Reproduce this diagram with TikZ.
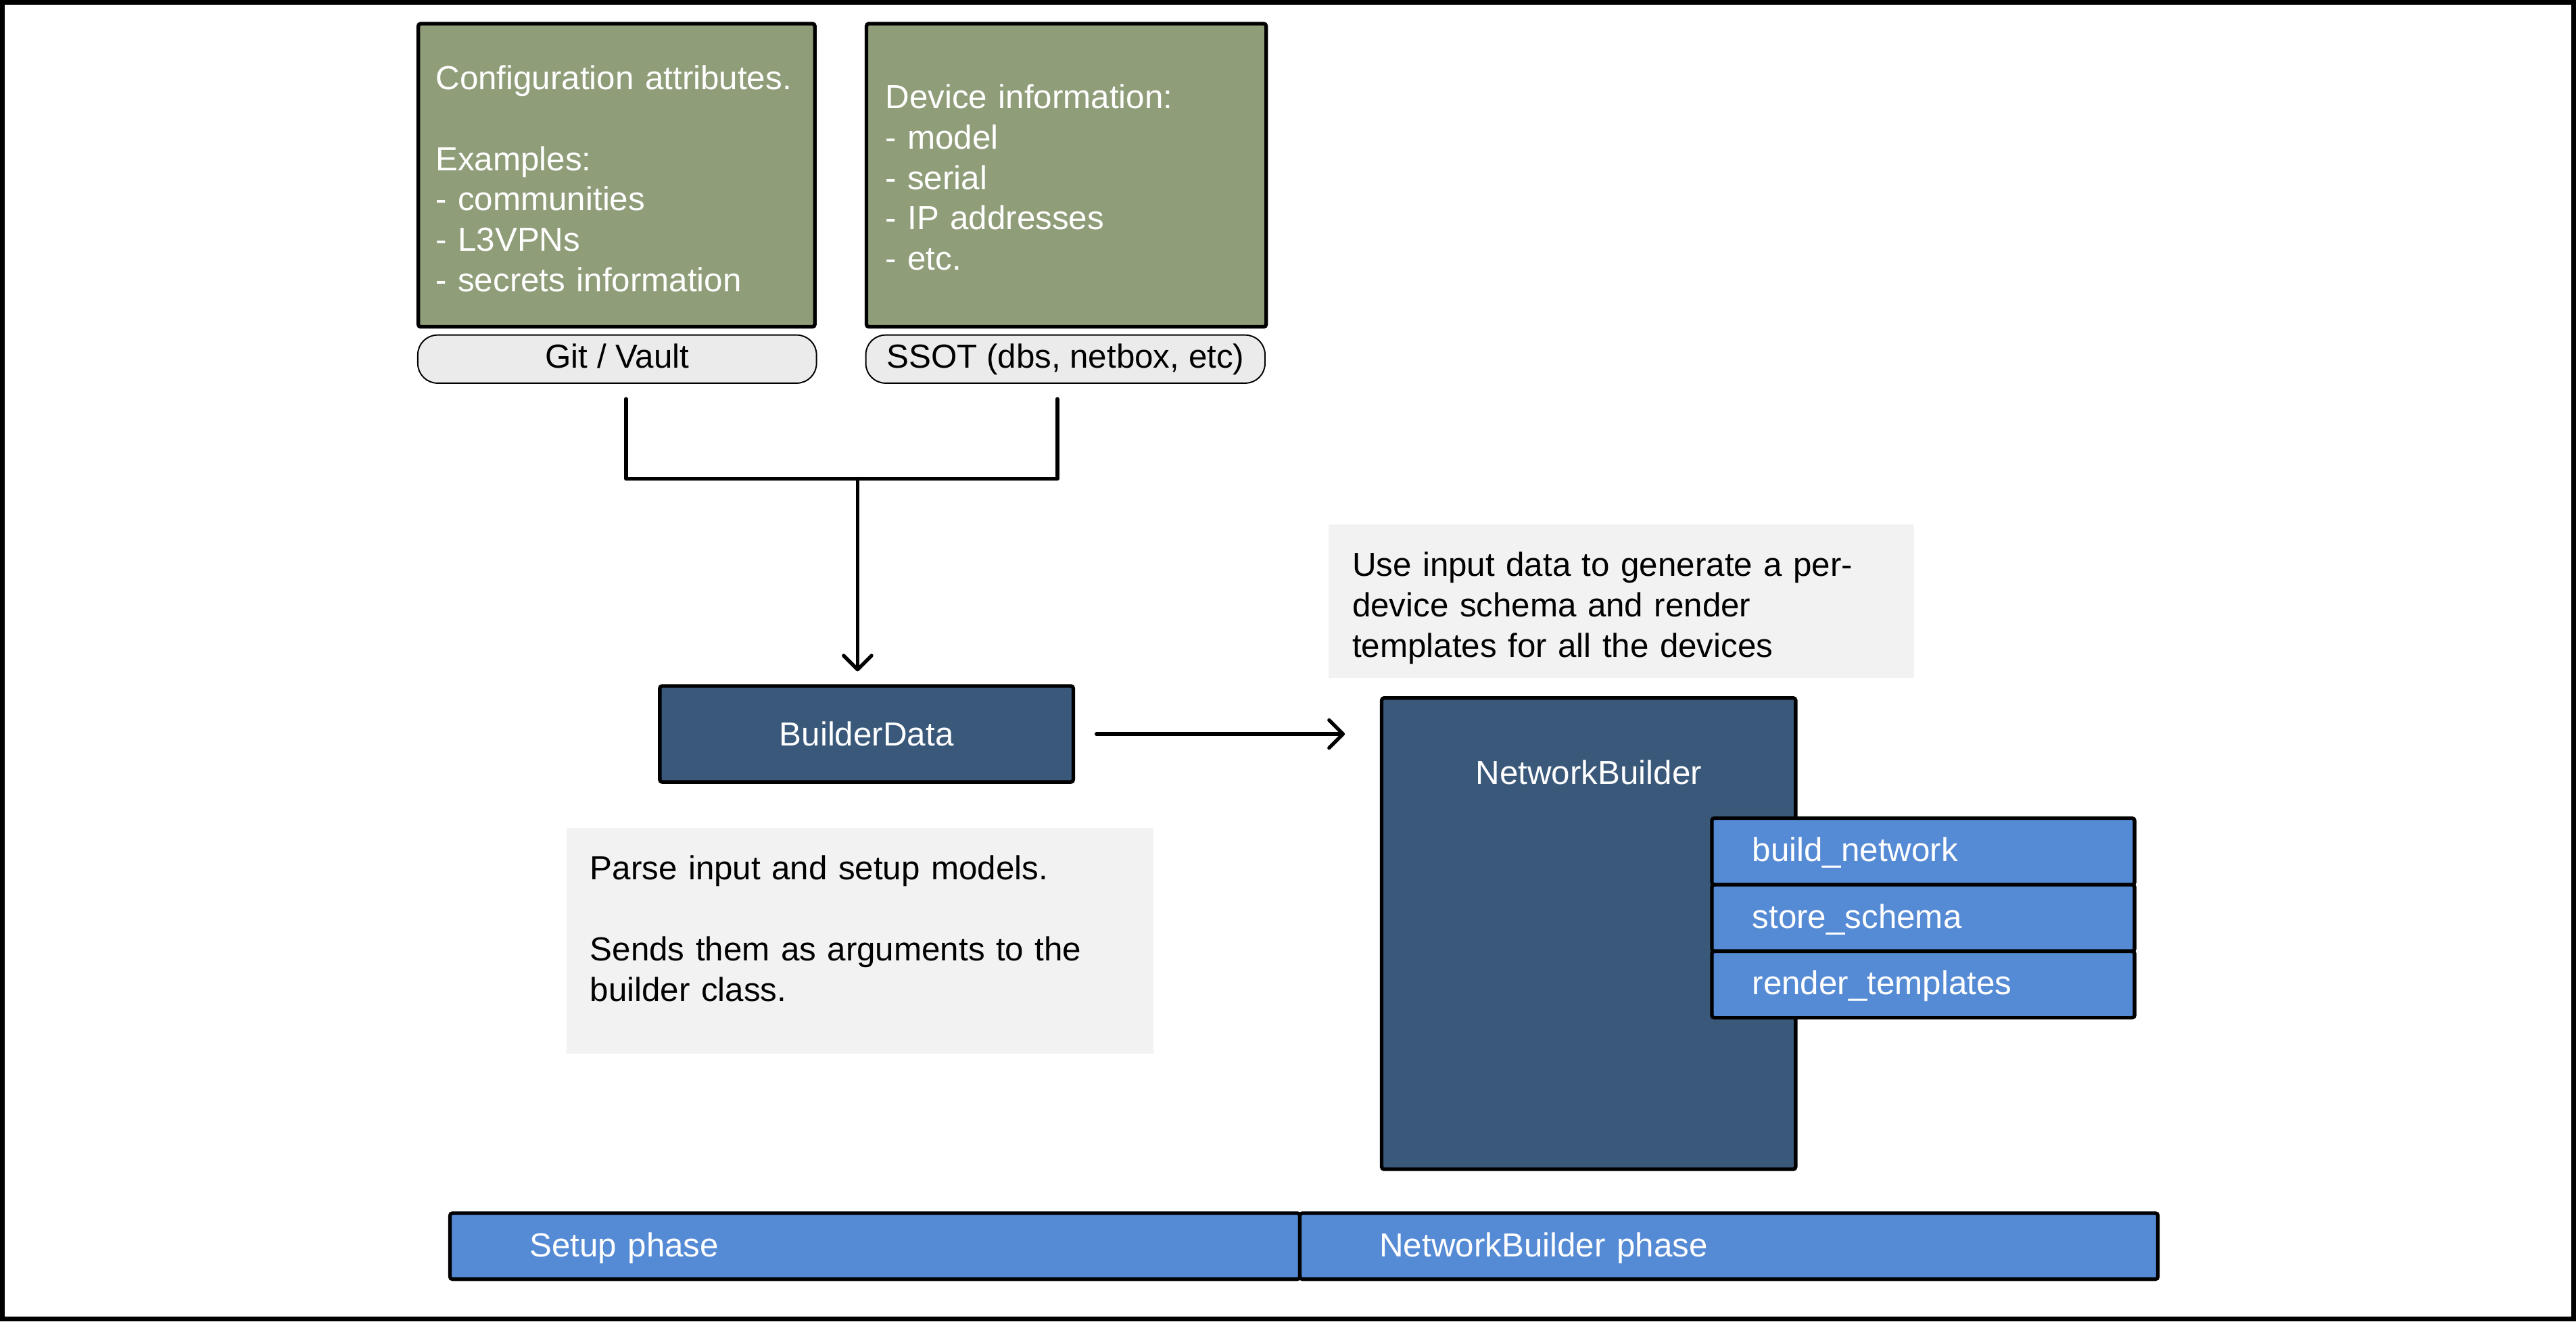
\documentclass[tikz,border=0pt]{standalone}
\usepackage{fontspec}
\setmainfont{Liberation Sans}
\usetikzlibrary{arrows.meta,positioning}
\definecolor{srcgreen}{HTML}{8F9D79}
\definecolor{builderblue}{HTML}{3A5879}
\definecolor{methodblue}{HTML}{558AD5}
\definecolor{pillgrey}{HTML}{EBEBEB}
\definecolor{notegrey}{HTML}{F2F2F2}
\tikzset{
    every node/.style={font=\fontsize{20.3}{24.6}\selectfont},
    heavybox/.style={draw=black, line width=2.2pt, rounded corners=1.5pt, anchor=north west,
        inner sep=0pt, outer sep=0pt},
    srcbox/.style={heavybox, fill=srcgreen, minimum height=184.6pt},
    pill/.style={draw=black, line width=0.8pt, fill=pillgrey, rounded corners=12pt, anchor=north west,
        minimum height=29.3pt, text height=14.8pt, text depth=4.3pt, inner sep=0pt, outer sep=0pt},
    classbox/.style={heavybox, fill=builderblue, text=white},
    methodbox/.style={heavybox, fill=methodblue, text=white, align=left, text width=208.1pt,
        inner xsep=24.6pt, minimum height=40.5pt, text height=14.8pt, text depth=2.5pt},
    phasebox/.style={heavybox, fill=methodblue, text=white, align=left, text width=#1,
        inner xsep=48.5pt, minimum height=40.2pt, text height=14.8pt, text depth=1.5pt},
    notebox/.style={fill=notegrey, anchor=north west, inner sep=0pt, outer sep=0pt},
    boxtext/.style={anchor=base west, inner sep=0pt, align=left, text width=#1},
    link/.style={line width=2.2pt, line cap=round, line join=round},
    flow/.style={link, -{Straight Barb[angle=90:12pt, line cap=round, line join=round]}},
}
\begin{document}
\begin{tikzpicture}[x=1pt, y=-1pt]
\useasboundingbox (0,0) rectangle (1568,804.6);
\draw[line width=3pt] (1.5,1.5) rectangle (1566.5,803.1);
%
% input data and where it lives
\node[srcbox, minimum width=241.4pt] (cfg) at (254.6,14.4) {};
\node[srcbox, minimum width=243.3pt] (dev) at (527.4,14.4) {};
\node[boxtext=220pt, text=white] (cfgtext) at (265,54.6)
    {Configuration attributes.\\[24.6pt]Examples:\\- communities\\- L3VPNs\\- secrets information};
\node[boxtext=220pt, text=white] (devtext) at (538.7,66.1)
    {Device information:\\- model\\- serial\\- IP addresses\\- etc.};
\node[pill, minimum width=242.7pt] (gitvault) at (254.3,204) {Git / Vault};
\node[pill, minimum width=243pt] (ssot) at (527,204) {SSOT (dbs, netbox, etc)};
%
% notes
\node[notebox, minimum width=356.4pt, minimum height=93.5pt] (nbnote) at (808.6,319.4) {};
\node[boxtext=400pt] (nbnotetext) at (822.9,350.9)
    {Use input data to generate a per-\\device schema and render\\templates for all the devices};
\node[notebox, minimum width=356.9pt, minimum height=137.3pt] (setupnote) at (345,504.1) {};
\node[boxtext=400pt] (setupnotetext) at (359,535.6)
    {Parse input and setup models.\\[25pt]Sends them as arguments to the\\builder class.};
%
% classes
\node[classbox, minimum width=251.7pt, minimum height=58.5pt] (builder) at (401.6,417.7) {BuilderData};
\node[classbox, minimum width=252pt, minimum height=287pt] (netbuilder) at (841,425) {};
\node[anchor=base, text=white, inner sep=0pt] (nbtitle) at (967,477.4) {NetworkBuilder};
\node[methodbox] (buildnet) at (1042,498.2) {build\_network};
\node[methodbox, below=0pt of buildnet] (storeschema) {store\_schema};
\node[methodbox, below=0pt of storeschema] (rendertpl) {render\_templates};
%
% phases
\node[phasebox=420.3pt] (setupphase) at (273.9,738.7) {Setup phase};
\node[phasebox=425.3pt, right=0pt of setupphase] (nbphase) {NetworkBuilder phase};
%
% connectors
\coordinate (gitout) at ([xshift=5.4pt, yshift=-9.6pt]gitvault.south);
\coordinate (ssotout) at ([xshift=-4.9pt, yshift=-9.6pt]ssot.south);
\coordinate (merge) at (522,291.6);
\draw[link] (gitout) |- (merge) -| (ssotout);
\draw[flow, shorten >=8.9pt] (merge) -- (merge |- builder.north);
\draw[flow, shorten <=14.1pt, shorten >=22.4pt] (builder.east) -- (builder.east -| netbuilder.west);
\end{tikzpicture}
\end{document}
